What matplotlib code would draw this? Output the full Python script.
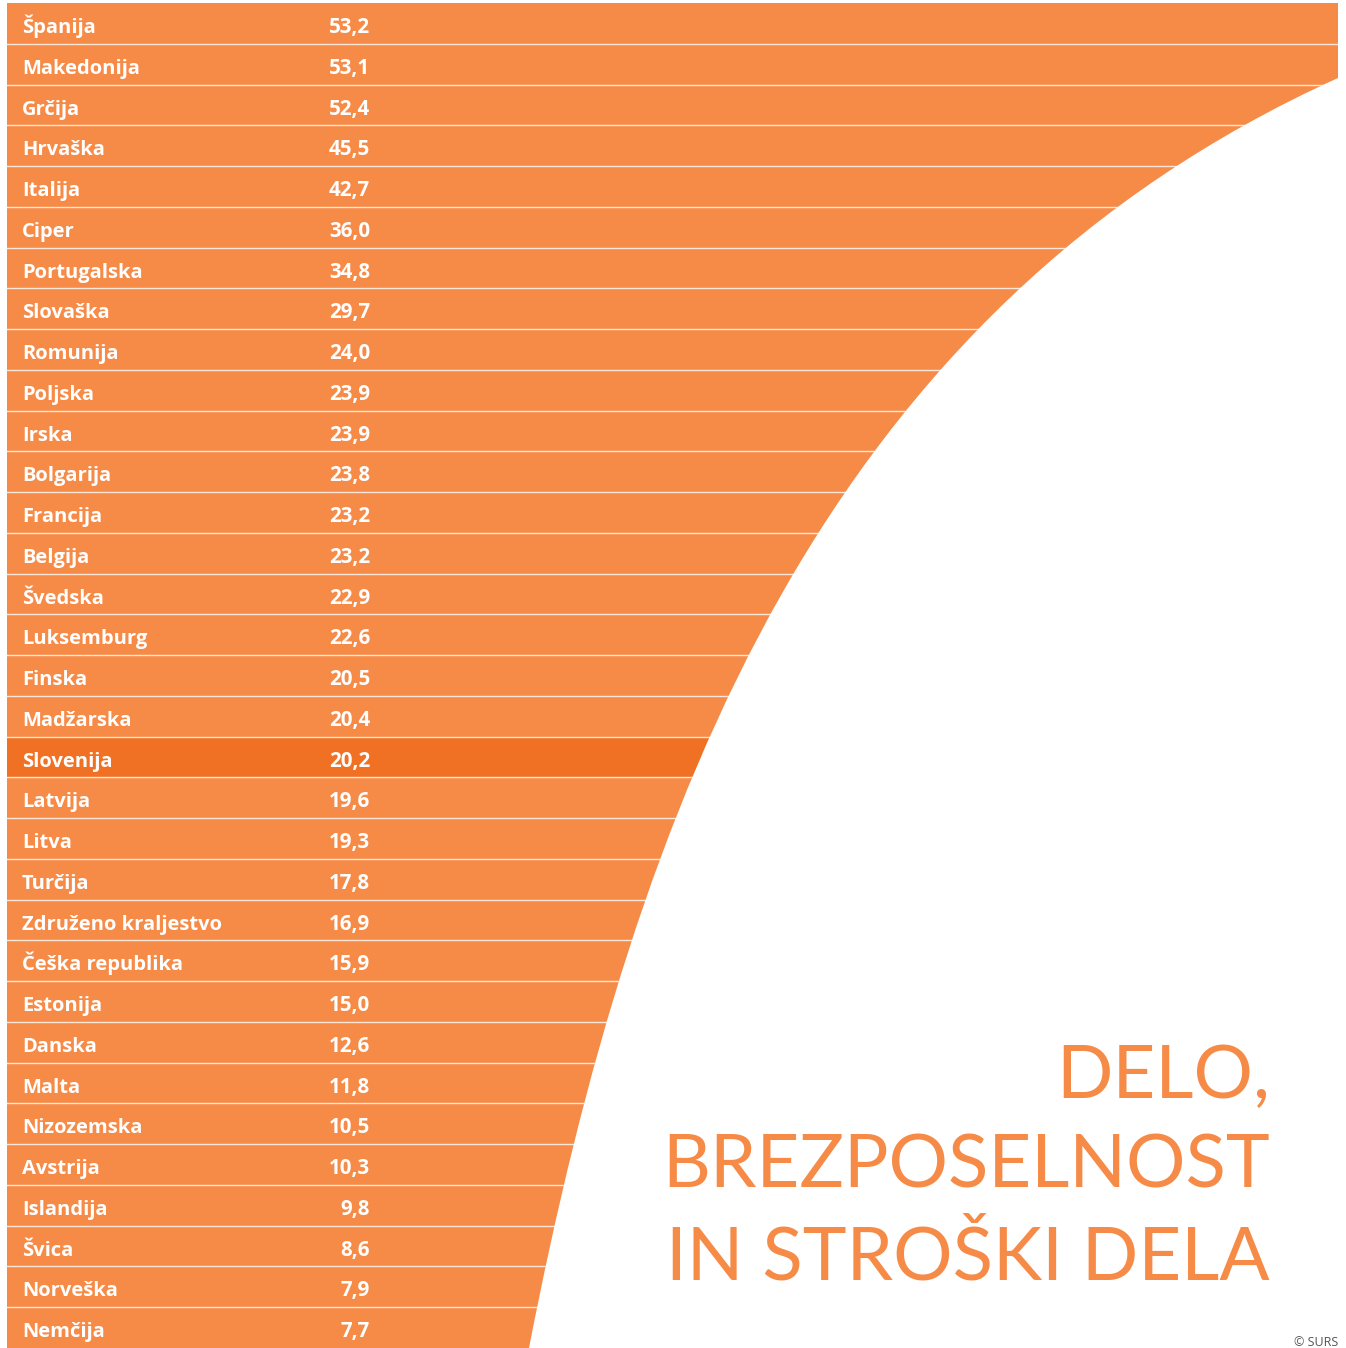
import matplotlib
matplotlib.use("Agg")
import matplotlib.pyplot as plt
from matplotlib.path import Path
from matplotlib.patches import PathPatch

countries = ["Španija", "Makedonija", "Grčija", "Hrvaška", "Italija", "Ciper",
             "Portugalska", "Slovaška", "Romunija", "Poljska", "Irska", "Bolgarija",
             "Francija", "Belgija", "Švedska", "Luksemburg", "Finska", "Madžarska",
             "Slovenija", "Latvija", "Litva", "Turčija", "Združeno kraljestvo",
             "Češka republika", "Estonija", "Danska", "Malta", "Nizozemska",
             "Avstrija", "Islandija", "Švica", "Norveška", "Nemčija"]
values = [53.2, 53.1, 52.4, 45.5, 42.7, 36.0, 34.8, 29.7, 24.0, 23.9, 23.9, 23.8,
          23.2, 23.2, 22.9, 22.6, 20.5, 20.4, 20.2, 19.6, 19.3, 17.8, 16.9, 15.9,
          15.0, 12.6, 11.8, 10.5, 10.3, 9.8, 8.6, 7.9, 7.7]
highlight = "Slovenija"
title_lines = ["DELO,", "BREZPOSELNOST", "IN STROŠKI DELA"]
credit = "© SURS"

ORANGE = "#F68B48"
DARK = "#F17124"

W, H = 1346, 1348
fig = plt.figure(figsize=(W / 100, H / 100), dpi=100, facecolor="white")

# bar axes: pixel region x 7..1338, y 3..1348
ax = fig.add_axes([7 / W, 0, (1338 - 7) / W, (H - 3) / H])
ax.set_facecolor("none")
n = len(countries)
ypos = list(range(n))
colors = [DARK if c == highlight else ORANGE for c in countries]
ax.barh(ypos, [1.0] * n, height=1.0, color=colors, linewidth=0)
ax.set_xlim(0, 1)
ax.set_ylim(n - 0.5, -0.5)
ax.axis("off")
for i in range(1, n):
    ax.axhline(i - 0.5, color="white", alpha=0.8, lw=1.0, zorder=3)

row_px = (H - 3) / n
base_off = 30 / row_px - 0.5
for i, (c, v) in enumerate(zip(countries, values)):
    ax.text((22 - 7) / 1331, i + base_off, c, ha="left", va="baseline",
            color="white", fontsize=14.5, fontweight="bold", family="Open Sans", zorder=4)
    ax.text((370 - 7) / 1331, i + base_off, f"{v:.1f}".replace(".", ","), ha="right",
            va="baseline", color="white", fontsize=14.8, fontweight="bold",
            family="Open Sans", zorder=4)

# overlay axes in pixel coords for decorative white curve and title
ov = fig.add_axes([0, 0, 1, 1], zorder=5)
ov.set_xlim(0, W)
ov.set_ylim(H, 0)
ov.axis("off")
ov.patch.set_alpha(0)
verts = [(1338, 78), (826, 310), (636, 799), (529, 1348),
         (529, 1360), (1360, 1360), (1360, 78), (1338, 78)]
codes = [Path.MOVETO, Path.CURVE4, Path.CURVE4, Path.CURVE4,
         Path.LINETO, Path.LINETO, Path.LINETO, Path.CLOSEPOLY]
ov.add_patch(PathPatch(Path(verts, codes), facecolor="white", edgecolor="none"))

baselines = [1098, 1188, 1280]
for t, yb in zip(title_lines, baselines):
    ov.text(1270, yb, t, ha="right", va="baseline", color=ORANGE,
            fontsize=53.5, family="Lato", fontweight="normal")

ov.text(1338, 1346, credit, ha="right", va="baseline", color="#555555",
        fontsize=9, family="Open Sans")

fig.savefig("out.png", dpi=100, facecolor="white")
